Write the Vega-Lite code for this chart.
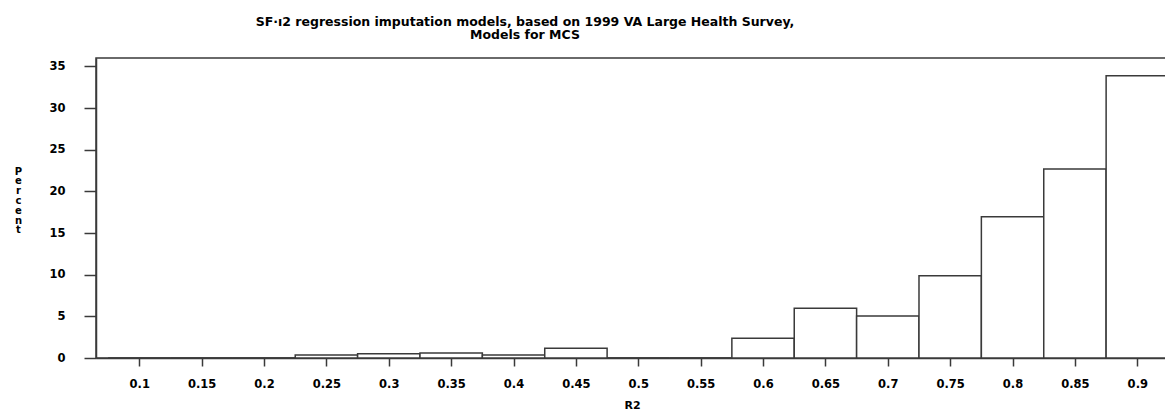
{
  "$schema": "https://vega.github.io/schema/vega-lite/v6.json",
  "width": 1072,
  "height": 300,
  "autosize": {"type": "none"},
  "padding": {"left": 96, "top": 58, "right": 0, "bottom": 55},
  "background": "white",
  "title": {
    "text": ["SF·ı2 regression imputation models, based on 1999 VA Large Health Survey,", "Models for MCS"],
    "font": "DejaVu Sans",
    "fontSize": 12.5,
    "fontWeight": "bold",
    "lineHeight": 13.3,
    "color": "black",
    "anchor": "middle",
    "frame": "group",
    "dx": -107,
    "offset": 16
  },
  "data": {
    "values": [
      {"mid": 0.1, "lo": 0.075, "hi": 0.125, "pct": 0},
      {"mid": 0.15, "lo": 0.125, "hi": 0.175, "pct": 0},
      {"mid": 0.2, "lo": 0.175, "hi": 0.225, "pct": 0},
      {"mid": 0.25, "lo": 0.225, "hi": 0.275, "pct": 0.36},
      {"mid": 0.3, "lo": 0.275, "hi": 0.325, "pct": 0.52},
      {"mid": 0.35, "lo": 0.325, "hi": 0.375, "pct": 0.6},
      {"mid": 0.4, "lo": 0.375, "hi": 0.425, "pct": 0.36},
      {"mid": 0.45, "lo": 0.425, "hi": 0.475, "pct": 1.16},
      {"mid": 0.5, "lo": 0.475, "hi": 0.525, "pct": 0},
      {"mid": 0.55, "lo": 0.525, "hi": 0.575, "pct": 0},
      {"mid": 0.6, "lo": 0.575, "hi": 0.625, "pct": 2.36},
      {"mid": 0.65, "lo": 0.625, "hi": 0.675, "pct": 5.96},
      {"mid": 0.7, "lo": 0.675, "hi": 0.725, "pct": 5.03},
      {"mid": 0.75, "lo": 0.725, "hi": 0.775, "pct": 9.87},
      {"mid": 0.8, "lo": 0.775, "hi": 0.825, "pct": 16.94},
      {"mid": 0.85, "lo": 0.825, "hi": 0.875, "pct": 22.69},
      {"mid": 0.9, "lo": 0.875, "hi": 0.925, "pct": 33.88}
    ]
  },
  "mark": {"type": "rect", "fill": "white", "stroke": "#3a3a3a", "strokeWidth": 1.5, "clip": true},
  "encoding": {
    "x": {
      "field": "lo",
      "type": "quantitative",
      "scale": {"domain": [0.0653, 0.9246], "nice": false, "zero": false},
      "axis": {
        "values": [0.1, 0.15, 0.2, 0.25, 0.3, 0.35, 0.4, 0.45, 0.5, 0.55, 0.6, 0.65, 0.7, 0.75, 0.8, 0.85, 0.9],
        "format": ".2~f",
        "grid": false,
        "tickSize": 8,
        "tickWidth": 1.5,
        "tickColor": "#3a3a3a",
        "domainColor": "#3a3a3a",
        "domainWidth": 1.5,
        "labelFont": "DejaVu Sans",
        "labelFontWeight": "bold",
        "labelFontSize": 11.5,
        "labelColor": "black",
        "labelPadding": 12,
        "labelFlush": false,
        "labelOverlap": false,
        "title": "R2",
        "titleFont": "DejaVu Sans",
        "titleFontWeight": "bold",
        "titleFontSize": 11,
        "titleColor": "black",
        "titlePadding": 10
      }
    },
    "x2": {"field": "hi"},
    "y": {
      "field": "pct",
      "type": "quantitative",
      "scale": {"domain": [0, 36], "nice": false},
      "axis": {
        "values": [0, 5, 10, 15, 20, 25, 30, 35],
        "grid": false,
        "tickSize": 12,
        "tickWidth": 1.5,
        "tickColor": "#3a3a3a",
        "domainColor": "#3a3a3a",
        "domainWidth": 1.5,
        "labelFont": "DejaVu Sans",
        "labelFontWeight": "bold",
        "labelFontSize": 11.5,
        "labelColor": "black",
        "labelPadding": 19,
        "labelOverlap": false,
        "title": ["P", "e", "r", "c", "e", "n", "t"],
        "titleFont": "DejaVu Sans",
        "titleFontWeight": "bold",
        "titleFontSize": 10,
        "titleColor": "black",
        "titleAngle": 0,
        "titleAlign": "center",
        "titleBaseline": "top",
        "titleLineHeight": 9.8,
        "titleX": -78,
        "titleY": 108
      }
    }
  },
  "config": {
    "view": {"stroke": "#3a3a3a", "strokeWidth": 1.5}
  }
}
